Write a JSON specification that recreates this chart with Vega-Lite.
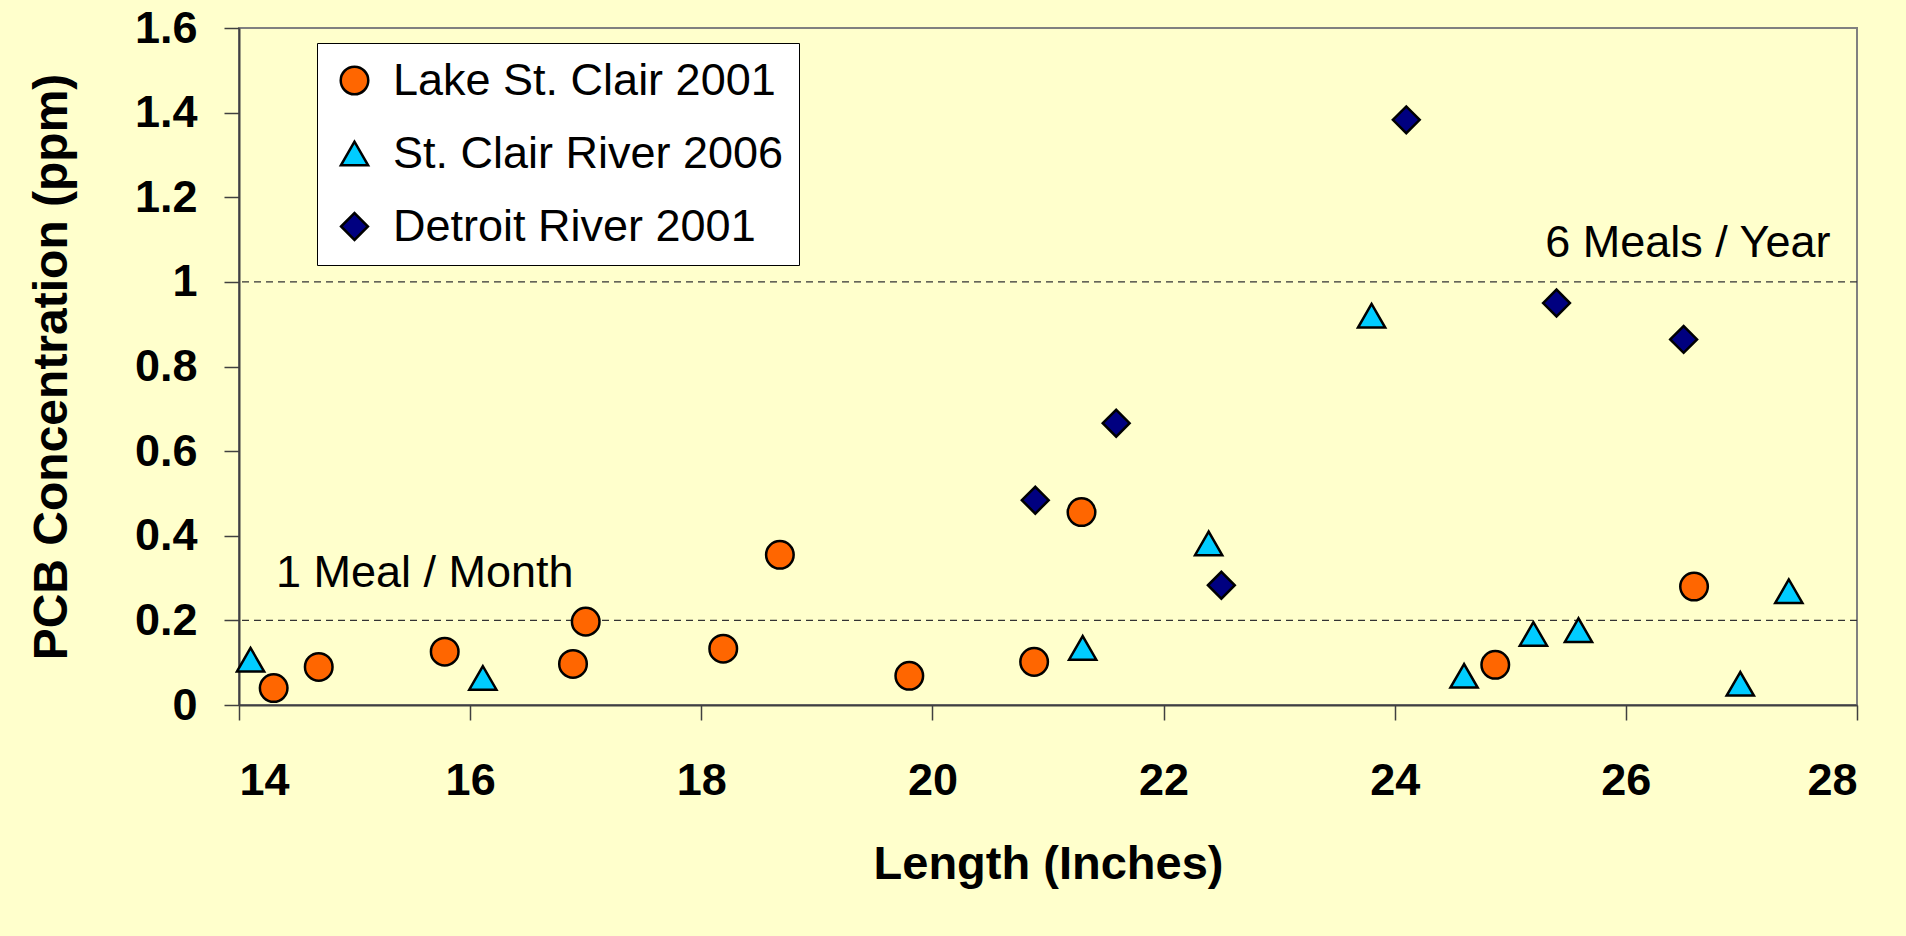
{
  "$schema": "https://vega.github.io/schema/vega-lite/v6.json",
  "width": 1618,
  "height": 677,
  "autosize": "none",
  "padding": {"left": 239, "top": 28, "right": 49, "bottom": 231},
  "background": "#FFFFCC",
  "config": {
    "view": {"stroke": "#808080", "strokeWidth": 2, "fill": "#FFFFCC"},
    "font": "Liberation Sans",
    "axis": {
      "grid": false,
      "domainColor": "#404040",
      "domainWidth": 2,
      "tickColor": "#404040",
      "tickWidth": 1.5,
      "tickSize": 15,
      "labelFont": "Liberation Sans",
      "labelFontSize": 45,
      "labelFontWeight": "bold",
      "labelColor": "black",
      "titleFont": "Liberation Sans",
      "titleFontSize": 48,
      "titleFontWeight": "bold",
      "titleColor": "black"
    },
    "legend": {
      "symbolStrokeColor": "black",
      "symbolStrokeWidth": 2.5
    }
  },
  "datasets": {
    "points": [
      {"series": "Lake St. Clair 2001", "length": 14.3, "pcb": 0.04},
      {"series": "Lake St. Clair 2001", "length": 14.69, "pcb": 0.09},
      {"series": "Lake St. Clair 2001", "length": 15.78, "pcb": 0.126},
      {"series": "Lake St. Clair 2001", "length": 16.89, "pcb": 0.097},
      {"series": "Lake St. Clair 2001", "length": 17.0, "pcb": 0.197},
      {"series": "Lake St. Clair 2001", "length": 18.19, "pcb": 0.133},
      {"series": "Lake St. Clair 2001", "length": 18.68, "pcb": 0.355},
      {"series": "Lake St. Clair 2001", "length": 19.8, "pcb": 0.069},
      {"series": "Lake St. Clair 2001", "length": 20.88, "pcb": 0.102},
      {"series": "Lake St. Clair 2001", "length": 21.29, "pcb": 0.456},
      {"series": "Lake St. Clair 2001", "length": 24.87, "pcb": 0.095},
      {"series": "Lake St. Clair 2001", "length": 26.59, "pcb": 0.28},
      {"series": "St. Clair River 2006", "length": 14.1, "pcb": 0.107},
      {"series": "St. Clair River 2006", "length": 16.11, "pcb": 0.064},
      {"series": "St. Clair River 2006", "length": 21.3, "pcb": 0.135},
      {"series": "St. Clair River 2006", "length": 22.39, "pcb": 0.382},
      {"series": "St. Clair River 2006", "length": 23.8, "pcb": 0.92},
      {"series": "St. Clair River 2006", "length": 24.6, "pcb": 0.069},
      {"series": "St. Clair River 2006", "length": 25.2, "pcb": 0.168},
      {"series": "St. Clair River 2006", "length": 25.59, "pcb": 0.177},
      {"series": "St. Clair River 2006", "length": 26.99, "pcb": 0.05},
      {"series": "St. Clair River 2006", "length": 27.41, "pcb": 0.269},
      {"series": "Detroit River 2001", "length": 20.89, "pcb": 0.484},
      {"series": "Detroit River 2001", "length": 21.59, "pcb": 0.666},
      {"series": "Detroit River 2001", "length": 22.5, "pcb": 0.283},
      {"series": "Detroit River 2001", "length": 24.1, "pcb": 1.383},
      {"series": "Detroit River 2001", "length": 25.4, "pcb": 0.95},
      {"series": "Detroit River 2001", "length": 26.5, "pcb": 0.864}
    ],
    "limits": [{"limit": 0.2}, {"limit": 1.0}],
    "noteRight": [{"label": "6 Meals / Year", "length": 27.77, "pcb": 1.058}],
    "noteLeft": [{"label": "1 Meal / Month", "length": 14.32, "pcb": 0.28}]
  },
  "layer": [
    {
      "data": {"name": "limits"},
      "mark": {"type": "rule", "color": "#333333", "strokeWidth": 1.3, "strokeDash": [7, 5]},
      "encoding": {
        "y": {"field": "limit", "type": "quantitative", "scale": {"domain": [0, 1.6], "nice": false}}
      }
    },
    {
      "data": {"name": "noteRight"},
      "mark": {"type": "text", "align": "right", "baseline": "alphabetic", "fontSize": 45, "font": "Liberation Sans", "color": "black"},
      "encoding": {
        "x": {"field": "length", "type": "quantitative"},
        "y": {"field": "pcb", "type": "quantitative"},
        "text": {"field": "label"}
      }
    },
    {
      "data": {"name": "noteLeft"},
      "mark": {"type": "text", "align": "left", "baseline": "alphabetic", "fontSize": 45, "font": "Liberation Sans", "color": "black"},
      "encoding": {
        "x": {"field": "length", "type": "quantitative"},
        "y": {"field": "pcb", "type": "quantitative"},
        "text": {"field": "label"}
      }
    },
    {
      "data": {"name": "points"},
      "mark": {"type": "point", "filled": true, "stroke": "black", "strokeWidth": 2.5, "opacity": 1},
      "encoding": {
        "x": {
          "field": "length", "type": "quantitative",
          "scale": {"domain": [14, 28], "nice": false, "zero": false},
          "axis": {
            "title": "Length (Inches)",
            "values": [14, 16, 18, 20, 22, 24, 26, 28],
            "format": "d",
            "labelPadding": 38,
            "titlePadding": 38,
            "titleFontSize": 47
          }
        },
        "y": {
          "field": "pcb", "type": "quantitative",
          "scale": {"domain": [0, 1.6], "nice": false},
          "axis": {
            "title": "PCB Concentration (ppm)",
            "values": [0, 0.2, 0.4, 0.6, 0.8, 1, 1.2, 1.4, 1.6],
            "format": ".1~f",
            "labelPadding": 27,
            "titlePadding": 58
          }
        },
        "color": {
          "field": "series", "type": "nominal",
          "scale": {
            "domain": ["Lake St. Clair 2001", "St. Clair River 2006", "Detroit River 2001"],
            "range": ["#FF6600", "#00CCFF", "#000080"]
          },
          "legend": {
            "title": null,
            "orient": "none",
            "legendX": 78,
            "legendY": 15,
            "fillColor": "white",
            "strokeColor": "black",
            "padding": 15,
            "rowPadding": 27,
            "labelFontSize": 45,
            "labelFont": "Liberation Sans",
            "labelColor": "black",
            "labelOffset": 16,
            "labelLimit": 1000,
            "symbolStrokeColor": "black",
            "symbolStrokeWidth": 2.5
          }
        },
        "shape": {
          "field": "series", "type": "nominal",
          "scale": {
            "domain": ["Lake St. Clair 2001", "St. Clair River 2006", "Detroit River 2001"],
            "range": ["circle", "triangle-up", "diamond"]
          }
        },
        "size": {
          "field": "series", "type": "nominal",
          "scale": {
            "domain": ["Lake St. Clair 2001", "St. Clair River 2006", "Detroit River 2001"],
            "range": [760, 720, 640]
          }
        }
      }
    }
  ]
}
